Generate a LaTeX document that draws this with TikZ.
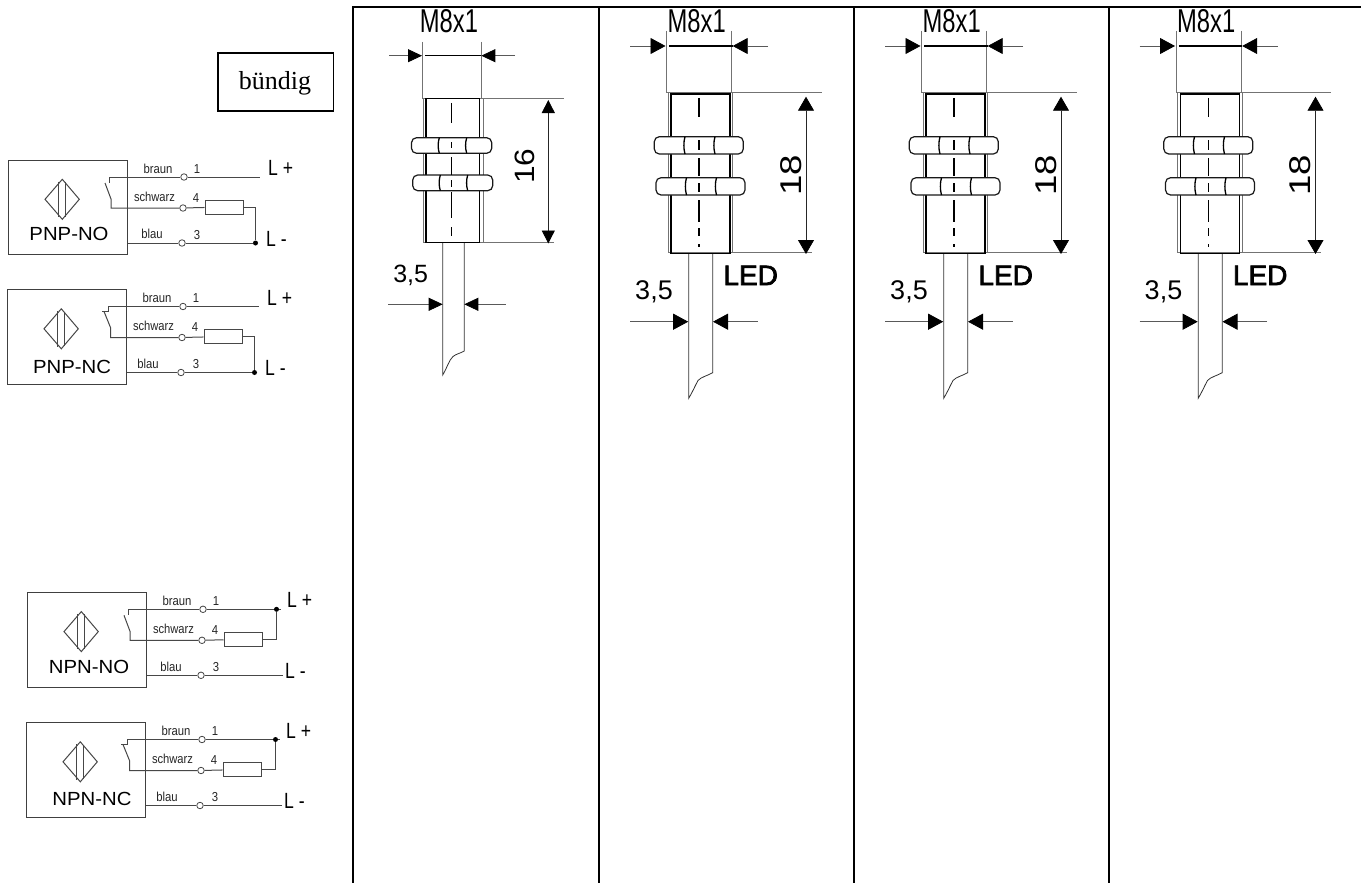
\documentclass[tikz,border=0pt]{standalone}
\usepackage{fontspec}
\setmainfont{Liberation Sans}
\newfontfamily\serifrm{Liberation Serif}
\newfontfamily\ledrm[FakeBold=2.5]{Liberation Sans}
\usetikzlibrary{arrows.meta}
\newcommand{\fs}[1]{\fontsize{#1}{#1}\selectfont}
\newcommand{\nar}[2]{\scalebox{#1}[1]{#2}}
\tikzset{
  frame/.style={line width=2pt,black},
  wire/.style={line width=1pt,black!72},
  terminal/.style={circle,draw=black!72,fill=white,line width=0.8pt,minimum size=6.5pt,inner sep=0pt},
  dotnode/.style={circle,fill=black,minimum size=5pt,inner sep=0pt},
  resistor/.style={rectangle,draw=black!72,fill=white,line width=1pt,minimum width=38pt,minimum height=14pt,inner sep=0pt},
  cbox/.style={rectangle,draw=black!75,line width=1pt,minimum width=118.5pt,minimum height=94.5pt,inner sep=0pt},
  smalltxt/.style={inner sep=0pt,anchor=base,font=\fs{13},black!85},
  midtxt/.style={inner sep=0pt,anchor=base,font=\fs{19},black},
  railtxt/.style={inner sep=0pt,anchor=base west,font=\fs{22},black},
  thread/.style={inner sep=0pt,anchor=base,font=\fs{33},black},
  size/.style={inner sep=0pt,font=\fs{29},rotate=90,black},
  gauge/.style={inner sep=0pt,anchor=base,font=\fs{25},black},
  ledtxt/.style={inner sep=0pt,anchor=base,font=\ledrm\fs{28},black},
  outer/.style={line width=0.8pt,black!55},
  cable/.style={line width=0.8pt,black!80},
  body/.style={line width=1.5pt,black},
  nutbody/.style={line width=1.2pt,black!90,fill=white,rounded corners=5pt},
  nutdiv/.style={line width=1.3pt,black},
  axisshort/.style={line width=1.1pt,black,dash pattern=on 20pt off 19pt on 6pt off 9pt on 18pt off 5pt on 7pt off 5pt on 26pt off 9pt on 9pt off 20pt},
  axislong/.style={line width=1.1pt,black,dash pattern=on 19pt off 23pt on 10pt off 8pt on 18pt off 7pt on 9pt off 8pt on 22pt off 6pt on 8pt off 8pt on 3pt off 20pt},
  dimh/.style={line width=0.8pt,black!65,-{Triangle[length=14pt,width=13pt,black]}},
  dimv/.style={line width=0.8pt,black!85,{Triangle[length=13pt,width=13pt,black]}-{Triangle[length=13pt,width=13pt,black]}},
  dimhb/.style={line width=0.8pt,black!65,-{Triangle[length=15pt,width=16pt,black]}},
  dimvb/.style={line width=0.8pt,black!85,{Triangle[length=14pt,width=16pt,black]}-{Triangle[length=14pt,width=16pt,black]}},
}
% x1 y1 x2 y2 d1 d2
\newcommand{\nutpart}[6]{%
  \draw[nutbody] (#1,#2) rectangle (#3,#4);
  \draw[nutdiv] (#5,#2) .. controls (#5-1.5,#2+5) and (#5-1.5,#4-5) .. (#5,#4);
  \draw[nutdiv] (#6,#2) .. controls (#6-1.5,#2+5) and (#6-1.5,#4-5) .. (#6,#4);
}
\newcommand{\contactNO}{%
  \draw[wire] (109,177) -- (109,183);
  \draw[wire] (105,183) -- (111,199) -- (111,208) -- (\cp t4);
}
\newcommand{\contactNC}{%
  \draw[wire] (109,177) -- (109,182);
  \draw[wire] (103,182) -- (109.5,182);
  \draw[wire] (105,182) -- (111.5,198) -- (111.5,208) -- (\cp t4);
}
\newcommand{\wirePNP}{%
  \node[dotnode] (\cp dot) at (255.5,243) {};
  \draw[wire] (109,177) -- (\cp t1) -- (260,177);
  \draw[wire] (\cp box.east |- \cp t3) -- (\cp t3) -- (\cp dot);
  \draw[wire] (\cp res.east) -| (\cp dot);
}
\newcommand{\wireNPN}{%
  \node[dotnode] (\cp dot) at (257.5,177) {};
  \draw[wire] (109,177) -- (\cp t1) -- (\cp dot) -- (262,177);
  \draw[wire] (\cp box.east |- \cp t3) -- (\cp t3) -- (263.5,243);
  \draw[wire] (\cp res.east) -| (\cp dot);
}
% prefix dx dy label labeldx labeldy blaudx contact wiring
\newcommand{\circuit}[9]{%
 \def\cp{#1}%
 \begin{scope}[shift={(#2,#3)}]
  \node[cbox] (\cp box) at (68,207.5) {};
  \draw[wire] (62.3,179.3) -- (79.3,199.3) -- (62.3,219.3) -- (45,199.3) -- cycle;
  \draw[wire] (58,181.5) -- (58,217);
  \draw[wire] (65.3,182) -- (65.3,216.5);
  \node[midtxt] (\cp lab) at (69+#5,240+#6) {\nar{1.07}{#4}};
  \node[terminal] (\cp t1) at (184,177) {};
  \node[terminal] (\cp t4) at (183,208) {};
  \node[terminal] (\cp t3) at (182,243) {};
  \node[resistor] (\cp res) at (224,207) {};
  \draw[wire] (\cp t4) -- (\cp res);
  #9
  #8
  \node[smalltxt] (\cp a) at (158,173) {\nar{.87}{braun}};
  \node[smalltxt] (\cp b) at (197,173) {\nar{.87}{1}};
  \node[smalltxt] (\cp c) at (154.5,201) {\nar{.86}{schwarz}};
  \node[smalltxt] (\cp d) at (196,202) {\nar{.87}{4}};
  \node[smalltxt] (\cp e) at (152+#7,238.7) {\nar{.87}{blau}};
  \node[smalltxt] (\cp f) at (197,239) {\nar{.87}{3}};
  \node[railtxt] (\cp p) at (268,175.5) {\nar{.8}{L +}};
  \node[railtxt] (\cp m) at (266,246) {\nar{.8}{L -}};
 \end{scope}
}
% first, shorter sensor
\newcommand{\sensorshort}{%
  \draw[outer] (422.3,42) -- (422.3,98.5) -- (483,98.5) -- (564,98.5);
  \draw[outer] (481.3,42) -- (481.3,98.5);
  \draw[outer] (423,98.5) -- (423,242.5) -- (554,242.5);
  \draw[outer] (483,98.5) -- (483,242.5);
  \draw[cable] (442.7,243) -- (442.7,375) .. controls (447,368) and (449,360) .. (453,356.5) .. controls (456,354) and (461,353) .. (464.3,351) -- (464.3,243);
  \draw[body] (426,98.5) rectangle (479.5,242.7);
  \nutpart{411.5}{137.7}{491.7}{153.3}{439.3}{466.7}
  \nutpart{412.7}{175}{492.7}{190.7}{440.3}{467.7}
  \draw[axisshort] (451.3,103) -- (451.3,236);
  \coordinate (sa1) at (389,55.7); \coordinate (sa2) at (422,55.7);
  \coordinate (sa3) at (515,55.7); \coordinate (sa4) at (481.3,55.7);
  \draw[dimh] (sa1) -- (sa2);
  \draw[dimh] (sa3) -- (sa4);
  \draw[line width=1.1pt,black] (425,55.7) -- (sa4);
  \coordinate (sa5) at (548.3,100); \coordinate (sa6) at (548.3,243.5);
  \draw[dimv] (sa5) -- (sa6);
  \coordinate (sa7) at (388,304.3); \coordinate (sa8) at (442.7,304.3);
  \coordinate (sa9) at (505.7,304.3); \coordinate (sa10) at (464.3,304.3);
  \draw[dimh] (sa7) -- (sa8);
  \draw[dimh] (sa9) -- (sa10);
  \node[thread] (saM) at (449,33) {\nar{.72}{M8x1}};
  \node[size,font=\fs{28}] (sas) at (525,166) {\nar{1.13}{16}};
  \node[gauge] (sag) at (410.7,282.7) {3,5};
}
% longer sensor with LED
\newcommand{\sensorlong}[2]{%
 \begin{scope}[xshift=#2pt]
  \draw[outer] (666.7,31) -- (666.7,92.7) -- (731.7,92.7) -- (821.7,92.7);
  \draw[outer] (731.7,31) -- (731.7,92.7);
  \draw[outer] (668.3,92.7) -- (668.3,252.5) -- (811.7,252.5);
  \draw[outer] (732.7,92.7) -- (732.7,252.5);
  \draw[cable] (688.7,253) -- (688.7,398.3) .. controls (692,393) and (695,386) .. (698,380.5) .. controls (701,377) and (708,375.5) .. (712.7,372.7) -- (712.7,253);
  \draw[body] (671,94) rectangle (730,253.3);
  \nutpart{654.3}{136.7}{743.3}{154}{685}{715}
  \nutpart{656}{177.7}{745}{195}{686.5}{716.5}
  \draw[axislong] (699,98) -- (699,246.7);
  \coordinate (#1a) at (630,46); \coordinate (#1b) at (665.5,46);
  \coordinate (#1c) at (768,46); \coordinate (#1d) at (732.7,46);
  \draw[dimhb] (#1a) -- (#1b);
  \draw[dimhb] (#1c) -- (#1d);
  \draw[line width=1.1pt,black] (669.3,46) -- (#1d);
  \coordinate (#1e) at (806,96.7); \coordinate (#1f) at (806,254);
  \draw[dimvb] (#1e) -- (#1f);
  \coordinate (#1g) at (630,321.7); \coordinate (#1h) at (688.2,321.7);
  \coordinate (#1i) at (757.7,321.7); \coordinate (#1j) at (713,321.7);
  \draw[dimhb] (#1g) -- (#1h);
  \draw[dimhb] (#1i) -- (#1j);
  \node[thread] (#1M) at (696.7,33) {\nar{.72}{M8x1}};
  \node[size,font=\fs{30}] (#1s) at (791,175) {\nar{1.22}{18}};
  \node[gauge,font=\fs{27}] (#1n) at (654,299) {3,5};
  \node[ledtxt] (#1l) at (750.7,285) {LED};
 \end{scope}
}
\begin{document}
\begin{tikzpicture}[x=1pt,y=-1pt]
  \useasboundingbox (0,0) rectangle (1361,883);
  \fill[white] (0,0) rectangle (1361,883);
  % table
  \draw[frame] (353,883) -- (353,6.7) -- (1361,6.7);
  \draw[frame] (599,6.7) -- (599,883);
  \draw[frame] (853.5,6.7) -- (853.5,883);
  \draw[frame] (1108.5,6.7) -- (1108.5,883);
  % heading box
  \node[rectangle,draw=black,line width=1.5pt,minimum width=115.5pt,minimum height=57.5pt,inner sep=0pt] (hd) at (275.5,82) {};
  \node[inner sep=0pt,anchor=base,font=\serifrm\fs{26}] (hdt) at (275,89) {bündig};
  % circuits
  \circuit{pa}{0}{0}{PNP-NO}{0}{0}{0}{\contactNO}{\wirePNP}
  \circuit{pb}{-1}{129.5}{PNP-NC}{4}{3.5}{-3}{\contactNC}{\wirePNP}
  \circuit{na}{19}{432.3}{NPN-NO}{1}{1}{0}{\contactNO}{\wireNPN}
  \circuit{nb}{18}{562.5}{NPN-NC}{5}{3}{-3}{\contactNC}{\wireNPN}
  % sensors
  \sensorshort
  \sensorlong{sb}{0}
  \sensorlong{sc}{255}
  \sensorlong{sd}{509.5}
\end{tikzpicture}
\end{document}
